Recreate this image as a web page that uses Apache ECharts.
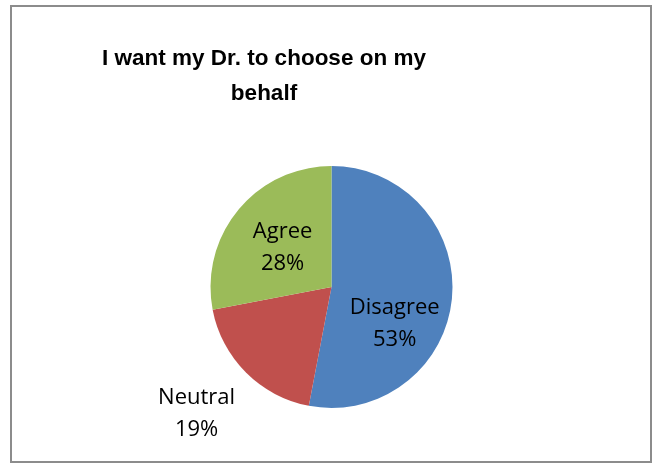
<!DOCTYPE html>
<html>
<head>
<meta charset="utf-8">
<script src="https://cdn.jsdelivr.net/npm/echarts@6/dist/echarts.min.js"></script>
<style>html,body{margin:0;padding:0;background:#fff}#c{width:653px;height:463px}</style>
</head>
<body>
<div id="c"></div>
<script>
const titleText = "I want my Dr. to choose on my\nbehalf";
const categories = ["Disagree", "Neutral", "Agree"];
const values = [53, 19, 28];
const colors = ["#4F81BD", "#C0504D", "#9BBB59"];
const labelShift = [[0, 31], [-90, 82], [0, 1]];

const chart = echarts.init(document.getElementById('c'), null, {renderer: 'canvas'});
chart.setOption({
  animation: false,
  backgroundColor: '#fff',
  title: {
    text: titleText,
    left: 259, top: 36, textAlign: 'center',
    textStyle: {fontFamily: 'Liberation Sans', fontWeight: 'bold', fontSize: 22.5, lineHeight: 35, color: '#000'}
  },
  graphic: [{
    type: 'rect', silent: true,
    shape: {x: 11, y: 6, width: 640, height: 456},
    style: {fill: 'none', stroke: '#8c8c8c', lineWidth: 2}
  }],
  series: [{
    type: 'pie',
    center: [331.5, 287],
    radius: [0, 121],
    startAngle: 90,
    clockwise: true,
    data: categories.map((c, i) => ({name: c, value: values[i], itemStyle: {color: colors[i]}})),
    label: {
      show: true, position: 'inside',
      formatter: p => p.name + '\n' + Math.round(p.percent) + '%',
      fontFamily: 'Open Sans', fontSize: 22, lineHeight: 32, color: '#000'
    },
    labelLine: {show: false},
    labelLayout: p => ({dx: labelShift[p.dataIndex][0], dy: labelShift[p.dataIndex][1]}),
    emphasis: {disabled: true}
  }]
});
</script>
</body>
</html>
